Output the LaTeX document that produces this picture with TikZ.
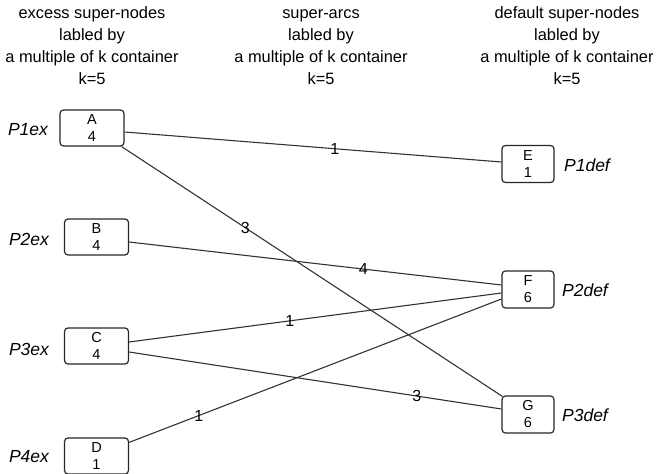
\documentclass[tikz,border=0pt]{standalone}
\usepackage{fontspec}
\setmainfont{Liberation Sans}
\begin{document}
\begin{tikzpicture}[x=1pt,y=-1pt,
  box/.style={draw=black!85,line width=1.2pt,rounded corners=3.5pt,minimum width=64pt,minimum height=36pt,inner sep=0pt,align=center,font=\fontsize{14.5}{17}\selectfont},
  rbox/.style={box,minimum width=52pt,minimum height=37pt},
  plab/.style={font=\fontsize{17.5}{17.5}\selectfont\itshape,inner sep=0pt},
  elab/.style={font=\fontsize{16}{16}\selectfont,inner sep=0pt},
  hd/.style={font=\fontsize{16.4}{16.4}\selectfont,anchor=base,inner sep=0pt},
  arc/.style={draw=black!80,line width=1.1pt}]
\useasboundingbox (0,0) rectangle (657,474);
% headers
\node[hd] (hl1) at (92,18) {excess super-nodes};
\node[hd] (hm1) at (321,18) {super-arcs};
\node[hd] (hr1) at (567,18) {default super-nodes};
\foreach \x/\c in {92/l,321/m,567/r}{
  \node[hd] (h\c2) at (\x,40) {labled by};
  \node[hd] (h\c3) at (\x,62) {a multiple of k container};
  \node[hd] (h\c4) at (\x,84) {k=5};
}
% boxes
\node[box] (A) at (92,128) {A\\4};
\node[box] (B) at (96.5,237) {B\\4};
\node[box] (C) at (96.5,346) {C\\4};
\node[box] (D) at (96.5,456) {D\\1};
\node[rbox] (E) at (528,164) {E\\1};
\node[rbox] (F) at (528,289.5) {F\\6};
\node[rbox] (G) at (528,414.5) {G\\6};
% side labels
\node[plab] (p1) at (28,130) {P1ex};
\node[plab] (p2) at (29,239) {P2ex};
\node[plab] (p3) at (29,349) {P3ex};
\node[plab] (p4) at (29,457) {P4ex};
\node[plab] (q1) at (587,165) {P1def};
\node[plab] (q2) at (585,290) {P2def};
\node[plab] (q3) at (585,415) {P3def};
% arcs
\draw[arc] ([yshift=-4pt]A.east) -- node[elab,pos=0.558] (l1) {1} ([yshift=2pt]E.west);
\draw[arc] ([xshift=-3pt]A.south east) -- node[elab,pos=0.325] (l2) {3} ([xshift=1pt,yshift=-1pt]G.north west);
\draw[arc] ([yshift=-5pt]B.east) -- node[elab,pos=0.629] (l3) {4} ([yshift=4.5pt]F.west);
\draw[arc] ([yshift=4pt]C.east) -- node[elab,pos=0.432] (l4) {1} ([yshift=-3.5pt]F.west);
\draw[arc] ([yshift=-6pt]C.east) -- node[elab,pos=0.773] (l5) {3} ([yshift=5.5pt]G.west);
\draw[arc] ([yshift=-5pt]D.north east) -- node[elab,pos=0.187] (l6) {1} ([yshift=-9.5pt]F.west);
\end{tikzpicture}
\end{document}
